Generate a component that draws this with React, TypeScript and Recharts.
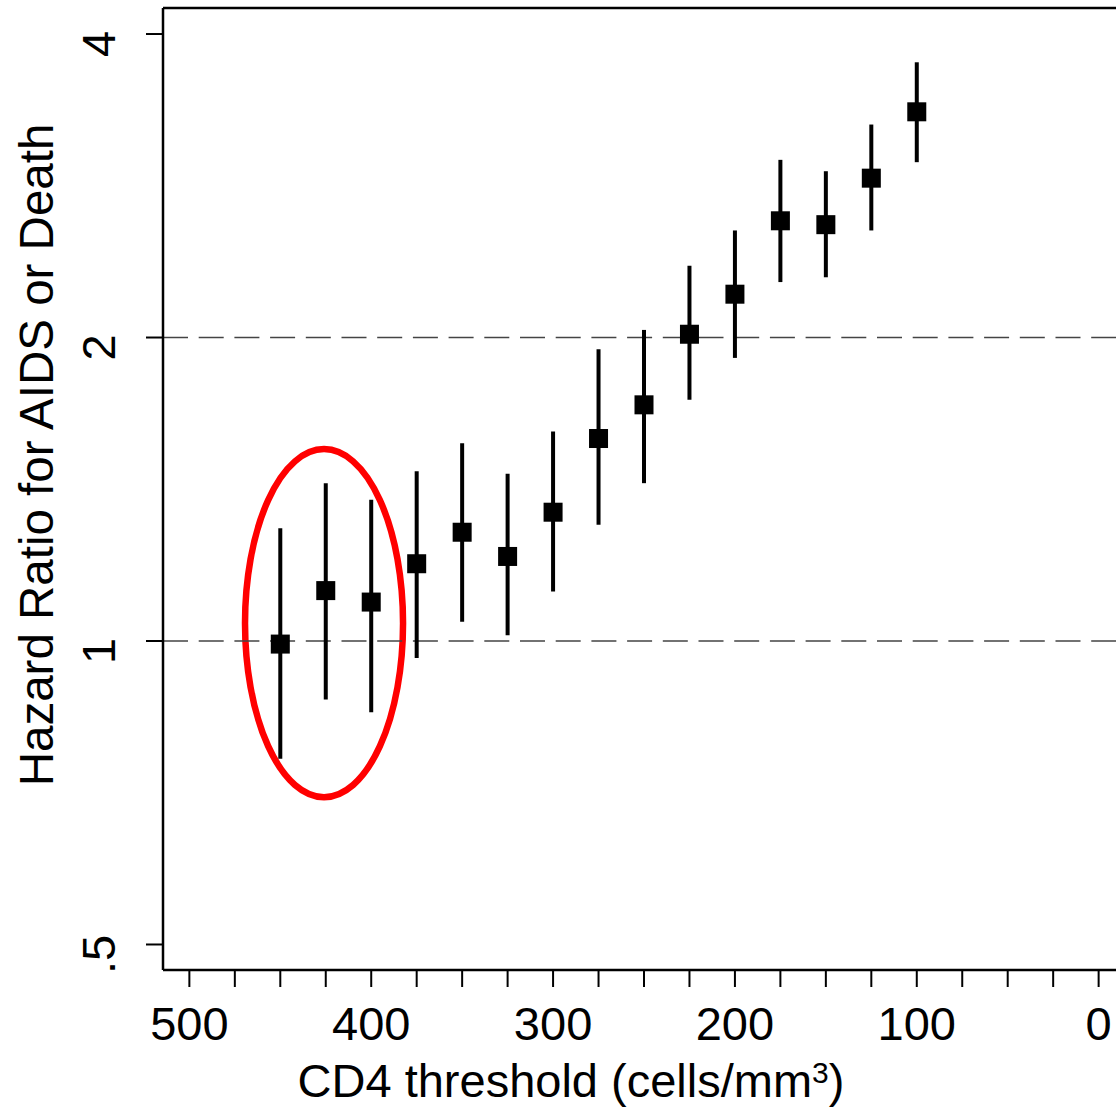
import React from 'react';
import {
  ScatterChart,
  Scatter,
  XAxis,
  YAxis,
  ErrorBar,
  ReferenceLine,
  ReferenceArea,
} from 'recharts';

const FONT = '"Liberation Sans", Arial, Helvetica, sans-serif';

// CD4 thresholds (cells/mm3)
const thresholds = [450, 425, 400, 375, 350, 325, 300, 275, 250, 225, 200, 175, 150, 125, 100];
// Hazard ratio point estimates
const hazardRatio = [0.993, 1.122, 1.093, 1.193, 1.282, 1.213, 1.342, 1.588, 1.715, 2.015, 2.208, 2.611, 2.588, 2.878, 3.349];
// 95% CI lower / upper bounds
const ciLower = [0.764, 0.875, 0.85, 0.962, 1.045, 1.013, 1.12, 1.304, 1.434, 1.735, 1.909, 2.27, 2.295, 2.554, 2.985];
const ciUpper = [1.294, 1.434, 1.381, 1.474, 1.571, 1.465, 1.614, 1.947, 2.035, 2.356, 2.554, 3.001, 2.924, 3.253, 3.75];

const xTicks = [500, 475, 450, 425, 400, 375, 350, 325, 300, 275, 250, 225, 200, 175, 150, 125, 100, 75, 50, 25, 0];
const xTickLabels: Record<number, string> = { 500: '500', 400: '400', 300: '300', 200: '200', 100: '100', 0: '0' };
const yTicks = [0.5, 1, 2, 4];
const yTickLabels = ['.5', '1', '2', '4'];
const referenceLevels = [1, 2];

const xDomain = [-14.5, 514.5];
const yDomain = [0.4717, 4.245];

// highlighted region (red ellipse) bounds in data units
const highlightX = [469.4, 382.5];
const highlightY = [0.7, 1.55];

const data = thresholds.map((t, i) => ({
  threshold: t,
  hr: hazardRatio[i],
  err: [hazardRatio[i] - ciLower[i], ciUpper[i] - hazardRatio[i]],
}));

const XTick = (props: any) => {
  const { x, y, payload } = props;
  const label = xTickLabels[payload.value];
  if (label === undefined) return <g />;
  return (
    <text x={x} y={y} dy={53} textAnchor="middle" fontSize={47} fontFamily={FONT} fill="#000">
      {label}
    </text>
  );
};

const YTick = (props: any) => {
  const { x, y, payload } = props;
  const idx = yTicks.indexOf(payload.value);
  const bx = x - 31;
  const cy = y + 10;
  return (
    <text
      x={bx}
      y={cy}
      transform={`rotate(-90, ${bx}, ${cy})`}
      textAnchor="middle"
      fontSize={47}
      fontFamily={FONT}
      fill="#000"
    >
      {yTickLabels[idx]}
    </text>
  );
};

const SquareMarker = (p: any) => (
  <rect x={p.cx - 9.5} y={p.cy - 9.5} width={19} height={19} fill="#000" />
);

const EllipseShape = (p: any) => {
  const w = Math.abs(p.width);
  const h = Math.abs(p.height);
  const x = Math.min(p.x, p.x + p.width);
  const y = Math.min(p.y, p.y + p.height);
  return (
    <ellipse cx={x + w / 2} cy={y + h / 2} rx={w / 2} ry={h / 2} fill="none" stroke="#ff0000" strokeWidth={6.5} />
  );
};

const YLabel = (p: any) => {
  const vb = p.viewBox || { x: 0, y: 8, width: 163, height: 962 };
  const bx = vb.x + 53;
  const cy = vb.y + vb.height / 2 - 34;
  return (
    <text x={bx} y={cy} transform={`rotate(-90, ${bx}, ${cy})`} textAnchor="middle" fontSize={47.5} fontFamily={FONT} fill="#000">
      Hazard Ratio for AIDS or Death
    </text>
  );
};

const XLabel = (p: any) => {
  const vb = p.viewBox || { x: 163, y: 970, width: 962, height: 137 };
  const cx = vb.x + vb.width / 2 - 73;
  const by = vb.y + 127;
  return (
    <text x={cx} y={by} textAnchor="middle" fontSize={47} fontFamily={FONT} fill="#000">
      CD4 threshold (cells/mm
      <tspan fontSize={30} dy={-14}>3</tspan>
      <tspan dy={14}>)</tspan>
    </text>
  );
};

export default function App() {
  return (
    <div style={{ position: 'absolute', left: 0, top: 0, width: 1116, height: 1107, overflow: 'hidden', background: '#fff' }}>
      <ScatterChart width={1140} height={1107} margin={{ top: 8, right: 15, bottom: 0, left: 0 }}>
        <XAxis
          type="number"
          dataKey="threshold"
          domain={xDomain}
          reversed
          allowDataOverflow
          ticks={xTicks}
          interval={0}
          tick={<XTick />}
          tickSize={17}
          tickMargin={0}
          height={137}
          axisLine={{ stroke: '#000', strokeWidth: 2.5 }}
          tickLine={{ stroke: '#000', strokeWidth: 2 }}
          label={{ content: <XLabel /> }}
        />
        <YAxis
          type="number"
          dataKey="hr"
          scale="log"
          domain={yDomain}
          allowDataOverflow
          ticks={yTicks}
          interval={0}
          tick={<YTick />}
          tickSize={17}
          tickMargin={0}
          width={163}
          axisLine={{ stroke: '#000', strokeWidth: 2.5 }}
          tickLine={{ stroke: '#000', strokeWidth: 2 }}
          label={{ content: <YLabel /> }}
        />
        {referenceLevels.map((v) => (
          <ReferenceLine key={v} y={v} stroke="#444" strokeWidth={1.6} strokeDasharray="25 10.7" />
        ))}
        <ReferenceLine y={yDomain[1]} stroke="#000" strokeWidth={2.5} ifOverflow="visible" />
        <ReferenceLine x={xDomain[0]} stroke="#000" strokeWidth={2.5} ifOverflow="visible" />
        <ReferenceArea
          x1={highlightX[0]}
          x2={highlightX[1]}
          y1={highlightY[0]}
          y2={highlightY[1]}
          ifOverflow="visible"
          shape={<EllipseShape />}
        />
        <Scatter data={data} shape={<SquareMarker />} isAnimationActive={false}>
          <ErrorBar dataKey="err" direction="y" width={0} strokeWidth={4} stroke="#000" />
        </Scatter>
      </ScatterChart>
    </div>
  );
}
